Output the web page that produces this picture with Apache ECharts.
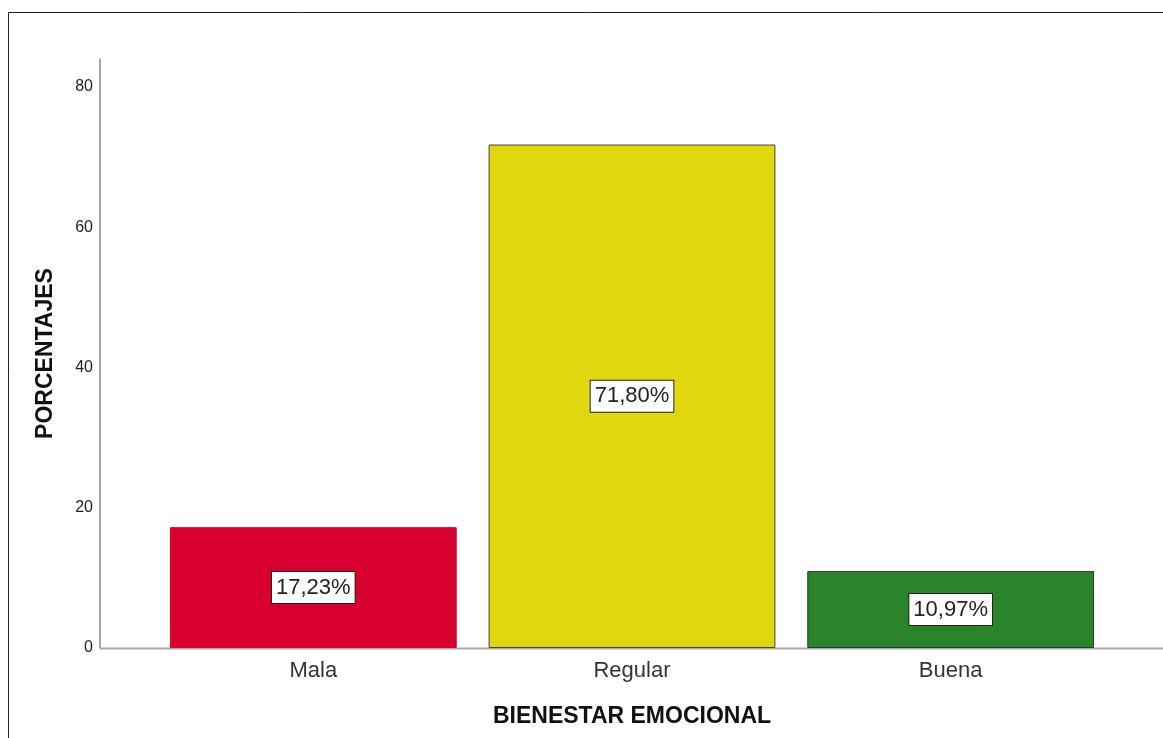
<!DOCTYPE html>
<html>
<head>
<meta charset="utf-8">
<script src="https://cdn.jsdelivr.net/npm/echarts@6/dist/echarts.min.js"></script>
<style>
  html, body { margin: 0; padding: 0; background: #fff; }
  #chart { width: 1163px; height: 738px; }
</style>
</head>
<body>
<div id="chart"></div>
<script>
// data
const categories = ['Mala', 'Regular', 'Buena'];
const percentages = [17.23, 71.80, 10.97];
const barColors = ['#D7002F', '#E1D70F', '#2A852A'];
const barBorders = ['#D7002F', '#444444', '#333333'];
const yTicks = [0, 20, 40, 60, 80];

const font = '"Liberation Sans", Arial, sans-serif';

const fmt = v => v.toFixed(2).replace('.', ',') + '%';

const el = document.getElementById('chart');
const myChart = echarts.init(el, null, { renderer: 'canvas' });

const option = {
  animation: false,
  backgroundColor: '#fff',
  textStyle: { fontFamily: font },
  grid: { left: 154, right: 53, top: 59, bottom: 90 },
  xAxis: {
    type: 'category',
    data: categories,
    axisLine: { show: false },
    axisTick: { show: false },
    axisLabel: { color: '#333', fontSize: 22, margin: 12, fontFamily: font },
    name: 'BIENESTAR EMOCIONAL',
    nameLocation: 'middle',
    nameGap: 57,
    nameTextStyle: { color: '#111', fontSize: 23, fontWeight: 'bold', fontFamily: font }
  },
  yAxis: {
    type: 'value',
    min: yTicks[0],
    max: 84,
    interval: 20,
    offset: 54,
    axisLine: { show: true, lineStyle: { color: '#888', width: 1.5 } },
    axisTick: { show: false },
    splitLine: { show: false },
    axisLabel: {
      color: '#222', fontSize: 16, margin: 7, fontFamily: font,
      showMaxLabel: false, padding: [5, 0, 0, 0]
    },
    name: 'PORCENTAJES',
    nameLocation: 'middle',
    nameGap: 43,
    nameTextStyle: { color: '#111', fontSize: 23, fontWeight: 'bold', fontFamily: font }
  },
  graphic: [
    {
      type: 'polyline',
      shape: { points: [[8.5, 738], [8.5, 12.5], [1163, 12.5]] },
      style: { stroke: '#222', lineWidth: 1, fill: null },
      silent: true
    },
    {
      type: 'line',
      shape: { x1: 100, y1: 648.5, x2: 1163, y2: 648.5 },
      style: { stroke: '#aaa', lineWidth: 2 },
      z: 1,
      silent: true
    }
  ],
  series: [{
    type: 'bar',
    barCategoryGap: '10%',
    z: 5,
    data: percentages.map((v, i) => ({
      value: v,
      itemStyle: { color: barColors[i], borderColor: barBorders[i], borderWidth: 1 }
    })),
    label: {
      show: true,
      position: 'inside',
      formatter: p => fmt(p.value),
      color: '#222',
      fontSize: 22,
      fontFamily: font,
      backgroundColor: '#fff',
      borderColor: '#222',
      borderWidth: 1,
      padding: [5, 4, 4, 4]
    }
  }]
};

myChart.setOption(option);
</script>
</body>
</html>
